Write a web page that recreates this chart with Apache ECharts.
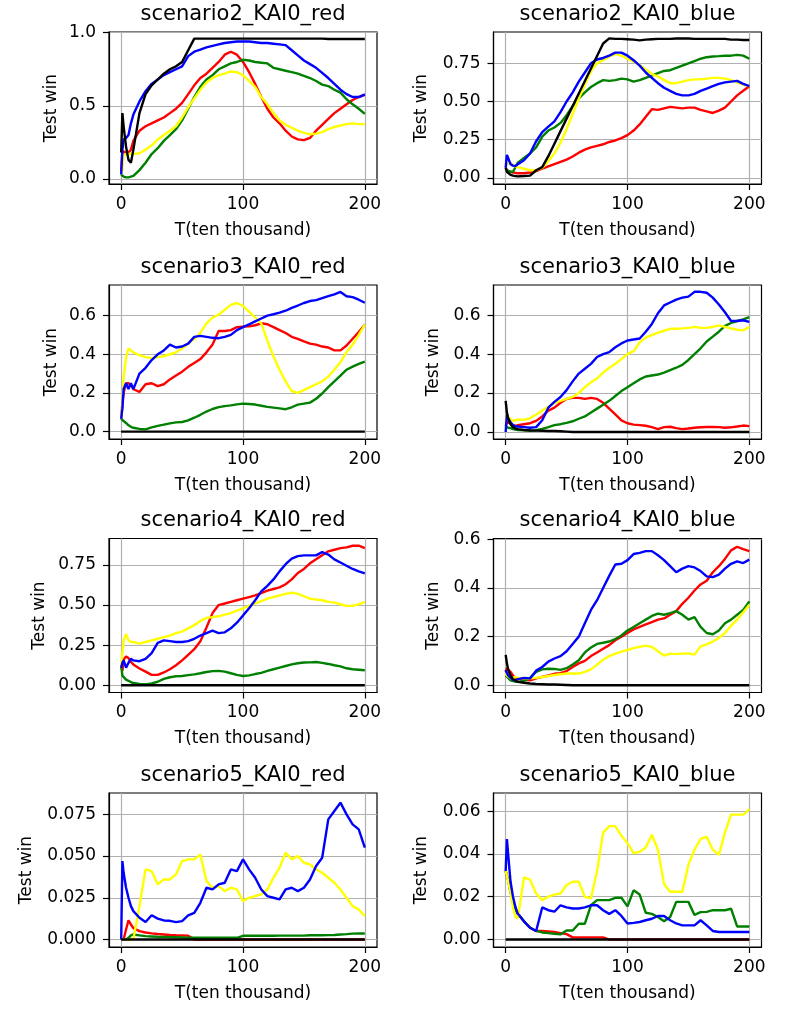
<!DOCTYPE html>
<html><head><meta charset="utf-8">
<script src="https://cdn.jsdelivr.net/npm/echarts@6.0.0/dist/echarts.min.js"></script>
<style>html,body{margin:0;padding:0;background:#fff}#c{width:789px;height:1021px}</style>
</head><body><div id="c"></div>
<script>
// x positions (ten thousand steps) shared by all series
const X = [0,1,2,4,6,8,10,15,20,25,30,35,40,45,50,55,60,65,70,75,80,85,90,95,100,105,110,115,120,125,130,135,140,145,150,155,160,165,170,175,180,185,190,195,200];

const TITLES = ['scenario2_KAI0_red','scenario2_KAI0_blue','scenario3_KAI0_red','scenario3_KAI0_blue','scenario4_KAI0_red','scenario4_KAI0_blue','scenario5_KAI0_red','scenario5_KAI0_blue'];
const X_TICKS = [0,100,200];
const X_TICK_LABELS = ['0','100','200'];
const Y_TICKS = [[0,0.5,1.0],[0,0.25,0.5,0.75],[0,0.2,0.4,0.6],[0,0.2,0.4,0.6],[0,0.25,0.5,0.75],[0,0.2,0.4,0.6],[0,0.025,0.05,0.075],[0,0.02,0.04,0.06]];
const Y_TICK_LABELS = [['0.0','0.5','1.0'],['0.00','0.25','0.50','0.75'],['0.0','0.2','0.4','0.6'],['0.0','0.2','0.4','0.6'],['0.00','0.25','0.50','0.75'],['0.0','0.2','0.4','0.6'],['0.000','0.025','0.050','0.075'],['0.00','0.02','0.04','0.06']];
const Y_RANGES = [[-0.035,1.005],[-0.04,0.955],[-0.038,0.758],[-0.036,0.755],[-0.045,0.915],[-0.03,0.604],[-0.0045,0.0878],[-0.0035,0.0685]];
const X_NAME = 'T(ten thousand)';
const Y_NAME = 'Test win';

// scenario2_KAI0_red
const P1_RED = [0.05,0.19,0.18,0.18,0.18,0.2,0.26,0.33,0.36,0.38,0.4,0.42,0.45,0.48,0.52,0.58,0.64,0.69,0.72,0.76,0.8,0.85,0.87,0.85,0.8,0.73,0.65,0.56,0.48,0.42,0.38,0.33,0.29,0.27,0.265,0.28,0.33,0.37,0.41,0.45,0.48,0.51,0.54,0.56,0.575];
const P1_GREEN = [0.03,0.02,0.015,0.01,0.01,0.015,0.02,0.06,0.11,0.17,0.21,0.26,0.3,0.34,0.4,0.48,0.56,0.63,0.68,0.71,0.75,0.77,0.79,0.8,0.815,0.81,0.8,0.795,0.79,0.76,0.75,0.74,0.73,0.72,0.705,0.69,0.67,0.645,0.635,0.61,0.59,0.545,0.51,0.48,0.445];
const P1_YELLOW = [0.03,0.06,0.16,0.17,0.17,0.17,0.17,0.175,0.2,0.23,0.27,0.3,0.33,0.36,0.42,0.49,0.55,0.61,0.66,0.69,0.71,0.72,0.735,0.73,0.71,0.67,0.63,0.56,0.51,0.45,0.4,0.37,0.35,0.33,0.315,0.305,0.31,0.32,0.34,0.355,0.365,0.375,0.38,0.375,0.375];
const P1_BLUE = [0.03,0.2,0.27,0.28,0.3,0.38,0.44,0.53,0.6,0.65,0.68,0.71,0.73,0.75,0.77,0.84,0.87,0.885,0.9,0.91,0.92,0.93,0.935,0.94,0.94,0.94,0.935,0.93,0.93,0.925,0.92,0.915,0.88,0.845,0.81,0.785,0.76,0.725,0.69,0.65,0.61,0.58,0.56,0.56,0.578];
const P1_BLACK = [0.18,0.45,0.36,0.22,0.13,0.11,0.2,0.45,0.58,0.64,0.68,0.72,0.75,0.77,0.8,0.88,0.96,0.96,0.96,0.96,0.96,0.96,0.96,0.96,0.96,0.96,0.96,0.96,0.96,0.96,0.96,0.96,0.96,0.96,0.96,0.96,0.96,0.96,0.957,0.957,0.957,0.957,0.957,0.957,0.957];

// scenario2_KAI0_blue
const P2_RED = [0.065,0.05,0.045,0.04,0.035,0.033,0.03,0.03,0.035,0.045,0.06,0.075,0.09,0.105,0.12,0.14,0.165,0.185,0.2,0.21,0.22,0.235,0.245,0.26,0.28,0.31,0.35,0.4,0.45,0.445,0.455,0.465,0.46,0.455,0.46,0.46,0.445,0.435,0.425,0.44,0.46,0.5,0.54,0.57,0.6];
const P2_GREEN = [0.06,0.05,0.045,0.04,0.04,0.07,0.1,0.13,0.16,0.2,0.27,0.31,0.33,0.36,0.41,0.47,0.52,0.56,0.595,0.62,0.64,0.635,0.64,0.65,0.645,0.63,0.64,0.655,0.67,0.685,0.7,0.705,0.72,0.735,0.75,0.765,0.78,0.79,0.795,0.797,0.8,0.8,0.805,0.8,0.78];
const P2_YELLOW = [0.07,0.09,0.1,0.095,0.085,0.075,0.07,0.06,0.05,0.05,0.065,0.11,0.16,0.23,0.32,0.42,0.52,0.61,0.7,0.75,0.77,0.795,0.81,0.8,0.78,0.76,0.74,0.71,0.68,0.665,0.64,0.62,0.62,0.63,0.64,0.645,0.645,0.65,0.655,0.655,0.65,0.64,0.625,0.61,0.6];
const P2_BLUE = [0.065,0.15,0.13,0.09,0.08,0.078,0.09,0.115,0.16,0.24,0.3,0.335,0.37,0.43,0.5,0.56,0.63,0.69,0.75,0.775,0.785,0.8,0.82,0.82,0.8,0.77,0.735,0.69,0.655,0.62,0.59,0.57,0.55,0.54,0.54,0.55,0.57,0.585,0.6,0.615,0.625,0.63,0.635,0.615,0.6];
const P2_BLACK = [0.065,0.04,0.03,0.02,0.015,0.012,0.01,0.012,0.015,0.05,0.07,0.142,0.224,0.306,0.388,0.47,0.552,0.634,0.716,0.798,0.88,0.913,0.91,0.91,0.908,0.905,0.9,0.905,0.908,0.91,0.91,0.91,0.912,0.912,0.912,0.91,0.91,0.91,0.91,0.91,0.91,0.905,0.905,0.903,0.903];

// scenario3_KAI0_red
const P3_RED = [0.066,0.15,0.2,0.25,0.25,0.24,0.22,0.205,0.245,0.25,0.235,0.245,0.27,0.29,0.31,0.335,0.355,0.375,0.41,0.45,0.52,0.52,0.525,0.54,0.543,0.545,0.55,0.56,0.555,0.54,0.525,0.51,0.49,0.48,0.467,0.455,0.45,0.44,0.435,0.42,0.42,0.445,0.48,0.515,0.553];
const P3_GREEN = [0.066,0.06,0.055,0.045,0.033,0.025,0.02,0.014,0.012,0.022,0.03,0.036,0.043,0.048,0.05,0.058,0.072,0.087,0.104,0.117,0.127,0.132,0.136,0.141,0.145,0.143,0.14,0.134,0.128,0.124,0.12,0.116,0.126,0.14,0.145,0.15,0.17,0.197,0.23,0.26,0.29,0.32,0.336,0.35,0.362];
const P3_YELLOW = [0.066,0.15,0.28,0.38,0.43,0.42,0.41,0.395,0.385,0.38,0.385,0.39,0.4,0.41,0.43,0.455,0.48,0.51,0.56,0.59,0.605,0.63,0.655,0.665,0.65,0.62,0.59,0.56,0.47,0.39,0.32,0.26,0.21,0.2,0.215,0.23,0.245,0.26,0.285,0.32,0.36,0.41,0.45,0.5,0.553];
const P3_BLUE = [0.066,0.12,0.22,0.25,0.22,0.25,0.22,0.3,0.33,0.37,0.4,0.42,0.45,0.435,0.44,0.455,0.49,0.495,0.49,0.485,0.483,0.49,0.5,0.525,0.54,0.555,0.57,0.585,0.6,0.607,0.615,0.625,0.64,0.652,0.665,0.675,0.68,0.69,0.7,0.71,0.722,0.7,0.695,0.682,0.666];
const P3_BLACK = [0,0,0,0,0,0,0,0,0,0,0,0,0,0,0,0,0,0,0,0,0,0,0,0,0,0,0,0,0,0,0,0,0,0,0,0,0,0,0,0,0,0,0,0,0];

// scenario3_KAI0_blue
const P4_RED = [0.03,0.05,0.05,0.045,0.035,0.03,0.035,0.04,0.045,0.057,0.08,0.11,0.125,0.15,0.17,0.175,0.175,0.17,0.175,0.17,0.15,0.12,0.09,0.06,0.045,0.038,0.035,0.032,0.025,0.015,0.025,0.027,0.02,0.015,0.018,0.022,0.024,0.026,0.026,0.025,0.022,0.024,0.028,0.033,0.03];
const P4_GREEN = [0.03,0.025,0.022,0.02,0.015,0.012,0.01,0.009,0.008,0.009,0.016,0.025,0.035,0.04,0.047,0.055,0.068,0.08,0.1,0.12,0.14,0.16,0.185,0.21,0.23,0.25,0.27,0.285,0.29,0.295,0.305,0.318,0.33,0.345,0.37,0.4,0.43,0.465,0.49,0.515,0.545,0.56,0.57,0.578,0.59];
const P4_YELLOW = [0.05,0.09,0.085,0.065,0.058,0.06,0.065,0.062,0.07,0.09,0.11,0.13,0.15,0.16,0.17,0.18,0.2,0.23,0.255,0.275,0.305,0.33,0.35,0.375,0.4,0.415,0.46,0.485,0.497,0.51,0.52,0.53,0.53,0.532,0.535,0.54,0.535,0.535,0.54,0.548,0.54,0.532,0.525,0.522,0.54];
const P4_BLUE = [0.0,0.09,0.07,0.05,0.035,0.03,0.028,0.025,0.022,0.025,0.06,0.125,0.155,0.18,0.215,0.26,0.3,0.325,0.35,0.385,0.4,0.41,0.435,0.455,0.47,0.475,0.48,0.515,0.555,0.61,0.65,0.665,0.68,0.69,0.695,0.72,0.72,0.715,0.69,0.655,0.615,0.57,0.57,0.574,0.566];
const P4_BLACK = [0.16,0.1,0.07,0.04,0.025,0.018,0.015,0.01,0.008,0.007,0.006,0.005,0.005,0.004,0.002,0,0,0,0,0,0,0,0,0,0,0,0,0,0,0,0,0,0,0,0,0,0,0,0,0,0,0,0,0,0];

// scenario4_KAI0_red
const P5_RED = [0.12,0.09,0.16,0.18,0.17,0.145,0.13,0.105,0.085,0.065,0.065,0.08,0.1,0.125,0.155,0.19,0.225,0.275,0.36,0.45,0.5,0.51,0.52,0.53,0.54,0.55,0.56,0.575,0.59,0.6,0.61,0.63,0.66,0.7,0.725,0.76,0.785,0.81,0.835,0.845,0.855,0.86,0.87,0.87,0.855];
const P5_GREEN = [0.125,0.06,0.05,0.035,0.028,0.02,0.014,0.008,0.006,0.012,0.022,0.04,0.05,0.056,0.058,0.063,0.068,0.075,0.083,0.088,0.09,0.085,0.075,0.065,0.058,0.062,0.07,0.077,0.09,0.1,0.11,0.12,0.13,0.137,0.142,0.143,0.145,0.14,0.133,0.125,0.118,0.106,0.1,0.097,0.094];
const P5_YELLOW = [0.115,0.2,0.28,0.32,0.28,0.27,0.27,0.26,0.27,0.28,0.29,0.3,0.31,0.325,0.335,0.355,0.375,0.4,0.42,0.425,0.43,0.44,0.45,0.465,0.48,0.495,0.51,0.525,0.54,0.55,0.56,0.57,0.578,0.57,0.555,0.54,0.535,0.53,0.52,0.515,0.505,0.495,0.495,0.505,0.52];
const P5_BLUE = [0.11,0.14,0.155,0.11,0.14,0.165,0.155,0.15,0.165,0.2,0.265,0.28,0.275,0.27,0.27,0.275,0.29,0.31,0.325,0.34,0.325,0.33,0.355,0.39,0.435,0.48,0.53,0.585,0.62,0.66,0.71,0.755,0.79,0.805,0.81,0.81,0.81,0.83,0.815,0.785,0.765,0.745,0.725,0.71,0.698];
const P5_BLACK = [0,0,0,0,0,0,0,0,0,0,0,0,0,0,0,0,0,0,0,0,0,0,0,0,0,0,0,0,0,0,0,0,0,0,0,0,0,0,0,0,0,0,0,0,0];

// scenario4_KAI0_blue
const P6_RED = [0.055,0.07,0.068,0.055,0.04,0.028,0.025,0.022,0.02,0.028,0.034,0.04,0.047,0.05,0.058,0.075,0.09,0.1,0.12,0.135,0.15,0.165,0.185,0.2,0.215,0.23,0.24,0.25,0.26,0.27,0.275,0.29,0.305,0.335,0.36,0.39,0.415,0.43,0.465,0.49,0.52,0.555,0.57,0.56,0.552];
const P6_GREEN = [0.04,0.035,0.03,0.02,0.017,0.015,0.014,0.018,0.03,0.055,0.065,0.068,0.067,0.063,0.07,0.085,0.103,0.135,0.155,0.17,0.175,0.18,0.19,0.205,0.225,0.24,0.255,0.27,0.285,0.295,0.29,0.297,0.305,0.29,0.27,0.28,0.24,0.215,0.21,0.225,0.255,0.27,0.29,0.31,0.345];
const P6_YELLOW = [0.05,0.04,0.035,0.028,0.03,0.034,0.03,0.028,0.028,0.03,0.034,0.038,0.042,0.045,0.048,0.048,0.048,0.055,0.065,0.085,0.105,0.12,0.13,0.138,0.145,0.153,0.158,0.163,0.158,0.14,0.122,0.13,0.128,0.13,0.131,0.126,0.16,0.168,0.18,0.195,0.215,0.245,0.27,0.3,0.331];
const P6_BLUE = [0.062,0.05,0.04,0.03,0.022,0.02,0.025,0.03,0.028,0.06,0.075,0.097,0.11,0.12,0.14,0.17,0.2,0.255,0.31,0.35,0.4,0.45,0.497,0.5,0.515,0.54,0.545,0.552,0.552,0.535,0.515,0.49,0.465,0.48,0.49,0.485,0.47,0.448,0.445,0.455,0.48,0.5,0.51,0.503,0.517];
const P6_BLACK = [0.125,0.09,0.065,0.04,0.025,0.018,0.014,0.01,0.007,0.005,0.004,0.003,0.003,0.002,0.001,0,0,0,0,0,0,0,0,0,0,0,0,0,0,0,0,0,0,0,0,0,0,0,0,0,0,0,0,0,0];

// scenario5_KAI0_red
const P7_RED = [0,0,0,0.006,0.0115,0.009,0.0068,0.005,0.0042,0.0037,0.0033,0.003,0.0027,0.0025,0.0024,0.0023,0,0,0,0,0,0,0,0,0,0,0,0,0,0,0,0,0,0,0,0,0,0,0,0,0,0,0,0,0];
const P7_GREEN = [0,0,0,0,0.001,0.0025,0.003,0.0025,0.002,0.0018,0.0016,0.0015,0.0014,0.0013,0.0012,0.0011,0.001,0.001,0.001,0.001,0.001,0.001,0.001,0.001,0.0022,0.0022,0.0022,0.0022,0.0022,0.0022,0.0023,0.0023,0.0023,0.0023,0.0023,0.0025,0.0025,0.0025,0.0026,0.0027,0.003,0.0032,0.0035,0.0036,0.0036];
const P7_YELLOW = [0,0,0,0,0,0,0,0.02,0.042,0.041,0.033,0.036,0.036,0.039,0.047,0.048,0.048,0.051,0.035,0.031,0.032,0.029,0.031,0.03,0.023,0.025,0.026,0.027,0.03,0.037,0.043,0.052,0.048,0.05,0.046,0.045,0.042,0.04,0.037,0.034,0.03,0.025,0.02,0.018,0.014];
const P7_BLUE = [0,0.047,0.04,0.031,0.025,0.02,0.017,0.013,0.0105,0.0145,0.0125,0.0114,0.0112,0.0104,0.011,0.0145,0.016,0.022,0.031,0.03,0.033,0.034,0.042,0.041,0.048,0.042,0.037,0.03,0.026,0.025,0.024,0.03,0.031,0.029,0.031,0.036,0.044,0.049,0.072,0.077,0.082,0.075,0.069,0.066,0.055];
const P7_BLACK = [0,0,0,0,0,0,0,0,0,0,0,0,0,0,0,0,0,0,0,0,0,0,0,0,0,0,0,0,0,0,0,0,0,0,0,0,0,0,0,0,0,0,0,0,0];

// scenario5_KAI0_blue
const P8_RED = [0.032,0.03,0.028,0.022,0.018,0.014,0.012,0.0085,0.0055,0.004,0.004,0.0038,0.0035,0.003,0.0025,0.001,0.001,0.001,0.001,0.001,0.001,0,0,0,0,0,0,0,0,0,0,0,0,0,0,0,0,0,0,0,0,0,0,0,0];
const P8_GREEN = [0.032,0.03,0.028,0.022,0.018,0.014,0.012,0.0085,0.0055,0.004,0.0033,0.003,0.0027,0.0024,0.0042,0.0042,0.0074,0.0074,0.016,0.0184,0.0184,0.0184,0.0195,0.0195,0.0155,0.023,0.021,0.0125,0.012,0.0105,0.0085,0.0105,0.0176,0.0176,0.0176,0.0115,0.0128,0.0129,0.0137,0.0137,0.0137,0.0144,0.0061,0.0061,0.0061];
const P8_YELLOW = [0.032,0.03,0.027,0.022,0.015,0.0105,0.01,0.029,0.028,0.0215,0.0184,0.02,0.021,0.0215,0.0255,0.027,0.027,0.02,0.0192,0.032,0.05,0.053,0.053,0.0485,0.045,0.0404,0.041,0.043,0.049,0.042,0.026,0.0223,0.0223,0.0223,0.035,0.042,0.047,0.048,0.042,0.0396,0.05,0.0584,0.0584,0.0584,0.061];
const P8_BLUE = [0.032,0.047,0.04,0.027,0.02,0.0152,0.012,0.0085,0.0055,0.004,0.015,0.0137,0.013,0.016,0.015,0.0145,0.0145,0.015,0.016,0.016,0.0137,0.012,0.0137,0.011,0.0075,0.0078,0.0082,0.009,0.0097,0.011,0.011,0.009,0.0075,0.0066,0.0066,0.0066,0.009,0.0066,0.004,0.0035,0.0035,0.0035,0.0035,0.0035,0.0035];
const P8_BLACK = [0,0,0,0,0,0,0,0,0,0,0,0,0,0,0,0,0,0,0,0,0,0,0,0,0,0,0,0,0,0,0,0,0,0,0,0,0,0,0,0,0,0,0,0,0];

const LINE_COLORS = ['#ff0000','#008000','#ffff00','#0000ff','#000000'];
const PANELS = [
  [P1_RED,P1_GREEN,P1_YELLOW,P1_BLUE,P1_BLACK],
  [P2_RED,P2_GREEN,P2_YELLOW,P2_BLUE,P2_BLACK],
  [P3_RED,P3_GREEN,P3_YELLOW,P3_BLUE,P3_BLACK],
  [P4_RED,P4_GREEN,P4_YELLOW,P4_BLUE,P4_BLACK],
  [P5_RED,P5_GREEN,P5_YELLOW,P5_BLUE,P5_BLACK],
  [P6_RED,P6_GREEN,P6_YELLOW,P6_BLUE,P6_BLACK],
  [P7_RED,P7_GREEN,P7_YELLOW,P7_BLUE,P7_BLACK],
  [P8_RED,P8_GREEN,P8_YELLOW,P8_BLUE,P8_BLACK]
];

const FONT = 'DejaVu Sans';
const ROW_TOPS = [32, 285, 538.5, 793];
const ROW_H = [152, 154, 154, 154];
const COL_LEFT = [109, 493.5];
const PW = 268;
const Y_NAME_GAP = [49, 63, 49, 51, 61, 51, 74, 63];

function pick(ticks, labels, v) {
  for (let k = 0; k < ticks.length; k++) if (Math.abs(ticks[k] - v) < 1e-9) return labels[k];
  return '';
}

const grids = [], xAxes = [], yAxes = [], titles = [], series = [];
for (let i = 0; i < 8; i++) {
  const col = i % 2, row = Math.floor(i / 2);
  const left = COL_LEFT[col], top = ROW_TOPS[row], h = ROW_H[row];
  grids.push({left: left, top: top, width: PW, height: h, show: true, borderColor: '#000', borderWidth: 1.2, backgroundColor: 'transparent', containLabel: false});
  titles.push({text: TITLES[i], left: left + PW / 2, top: top - 28, textAlign: 'center', padding: 0,
    textStyle: {fontSize: 21, fontWeight: 'normal', color: '#000', fontFamily: FONT}});
  xAxes.push({gridIndex: i, type: 'value', min: -10, max: 210,
    axisLine: {show: true, onZero: false, lineStyle: {color: '#000', width: 1.2}},
    axisTick: {show: true, length: 6, customValues: X_TICKS, lineStyle: {color: '#000', width: 1.2}},
    axisLabel: {customValues: X_TICKS, formatter: v => pick(X_TICKS, X_TICK_LABELS, v), fontSize: 17, color: '#000', fontFamily: FONT, margin: 12},
    splitLine: {show: true, lineStyle: {color: '#b0b0b0', width: 1.2}},
    name: X_NAME, nameLocation: 'middle', nameGap: 38,
    nameTextStyle: {fontSize: 17, color: '#000', fontFamily: FONT}});
  const yt = Y_TICKS[i], yl = Y_TICK_LABELS[i];
  yAxes.push({gridIndex: i, type: 'value', min: Y_RANGES[i][0], max: Y_RANGES[i][1],
    axisLine: {show: true, onZero: false, lineStyle: {color: '#000', width: 1.2}},
    axisTick: {show: true, length: 6, customValues: yt, lineStyle: {color: '#000', width: 1.2}},
    axisLabel: {customValues: yt, formatter: v => pick(yt, yl, v), fontSize: 17, color: '#000', fontFamily: FONT, margin: 13},
    splitLine: {show: true, lineStyle: {color: '#b0b0b0', width: 1.2}},
    name: Y_NAME, nameLocation: 'middle', nameGap: Y_NAME_GAP[i],
    nameTextStyle: {fontSize: 17, color: '#000', fontFamily: FONT}});
  PANELS[i].forEach((arr, s) => {
    series.push({type: 'line', xAxisIndex: i, yAxisIndex: i, showSymbol: false, symbol: 'none', silent: true,
      data: X.map((x, k) => [x, arr[k]]),
      lineStyle: {color: LINE_COLORS[s], width: 2.4}, itemStyle: {color: LINE_COLORS[s]}, z: 2 + s});
  });
}

const chart = echarts.init(document.getElementById('c'), null, {renderer: 'canvas'});
chart.setOption({animation: false, backgroundColor: '#fff', title: titles, grid: grids, xAxis: xAxes, yAxis: yAxes, series: series});
</script>
</body></html>
